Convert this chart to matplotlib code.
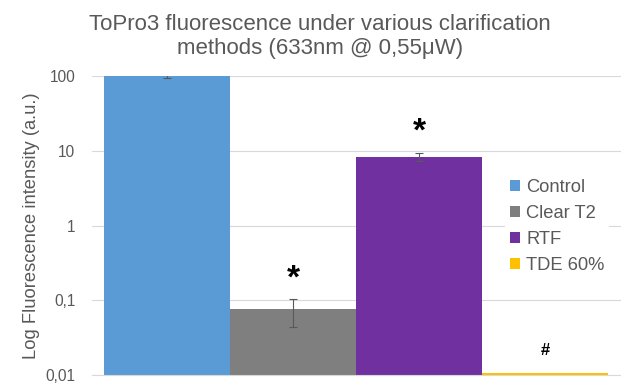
import matplotlib
matplotlib.use("Agg")
import matplotlib.pyplot as plt
from matplotlib.ticker import FixedLocator, FixedFormatter, NullLocator

plt.rcParams['font.family'] = ['Liberation Sans', 'DejaVu Sans']

categories = ["Control", "Clear T2", "RTF", "TDE 60%"]
values = [100, 0.076, 8.2, 0.0106]
err_low = [7, 0.032, 1.0, 0.0]
err_high = [8, 0.028, 1.1, 0.0]
colors = ["#5B9BD5", "#7F7F7F", "#7030A0", "#FFC000"]
marks = ["", "*", "*", "#"]
mark_y = [None, 0.19, 18, 0.021]
yticks = [0.01, 0.1, 1, 10, 100]
ytick_labels = ["0,01", "0,1", "1", "10", "100"]

fig = plt.figure(figsize=(6.21, 3.83), dpi=100)
top_px, bot_px = 76, 375
ax = fig.add_axes([92/621, 1-bot_px/383, (621-92)/621, (bot_px-top_px)/383])
ax.set_yscale('log')
ax.set_ylim(0.01, 100)
ax.set_xlim(-0.5-12/126, 3.5+13/126)

txtc = "#595959"
for i, (v, c) in enumerate(zip(values, colors)):
    ax.bar(i, v - 0.01, bottom=0.01, width=1.0, color=c, label=categories[i], zorder=2)
    if err_low[i] > 0:
        ax.errorbar(i, v, yerr=[[err_low[i]], [err_high[i]]], fmt='none',
                    ecolor="#595959", elinewidth=0.8, capsize=3, capthick=0.8, zorder=3)
    if marks[i]:
        fs = 24 if marks[i] == "*" else 12
        ax.text(i, mark_y[i], marks[i], ha='center', va='center', fontsize=fs,
                fontweight='bold', color='black', zorder=4)

ax.yaxis.set_major_locator(FixedLocator(yticks))
ax.yaxis.set_major_formatter(FixedFormatter(ytick_labels))
ax.yaxis.set_minor_locator(NullLocator())
ax.set_xticks([])
ax.grid(axis='y', color='#D9D9D9', linewidth=0.8, zorder=0)
ax.set_axisbelow(True)
for s in ['top', 'right', 'left']:
    ax.spines[s].set_visible(False)
ax.spines['bottom'].set_color('#D9D9D9')
ax.tick_params(axis='y', length=0, labelsize=11.2, labelcolor=txtc, pad=12)
ax.set_ylabel("Log Fluorescence intensity (a.u.)", fontsize=13.2, color=txtc, labelpad=4)

fig.text(0.515, 0.963, "ToPro3 fluorescence under various clarification\nmethods (633nm @ 0,55\u03bcW)",
         ha='center', va='top', fontsize=16.0, color=txtc, linespacing=1.17)

leg = ax.legend(loc='upper left', frameon=True,
                fontsize=13.2, handlelength=0.55, handleheight=0.55, handletextpad=0.35,
                labelspacing=0.5, borderpad=0.25, labelcolor=txtc,
                bbox_to_anchor=((496-92)/529, (bot_px-165)/(bot_px-top_px)), bbox_transform=ax.transAxes)
leg.get_frame().set_facecolor('white')
leg.get_frame().set_edgecolor('none')
leg.get_frame().set_alpha(1)
leg.get_frame().set_boxstyle('square', pad=0)
leg.set_zorder(5)

fig.savefig("out.png", dpi=100)
